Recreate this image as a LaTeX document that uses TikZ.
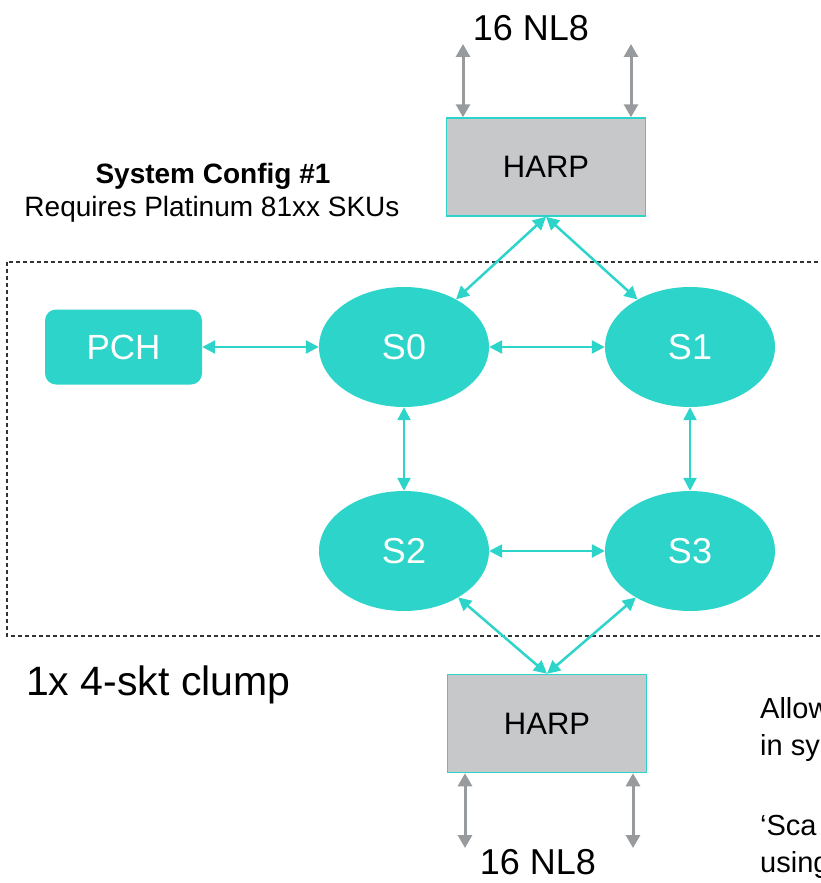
\documentclass[tikz,border=0pt]{standalone}
\usepackage{fontspec}
\setmainfont{Liberation Sans}
\usetikzlibrary{shapes.geometric, arrows.meta, positioning}

\definecolor{sktcol}{HTML}{2DD4CA}
\definecolor{harpfill}{HTML}{C6C8C9}
\definecolor{nlgray}{HTML}{979B9D}

\begin{document}
\begin{tikzpicture}[x=1pt, y=-1pt]

\def\xl{404} % x of the left sockets
\def\xr{690} % x of the right sockets
\def\yt{347} % y of the upper sockets
\def\yb{551} % y of the lower sockets

\tikzset{socket/.style = {ellipse, fill=sktcol, inner sep=0pt,
                          minimum width=170pt, minimum height=120pt,
                          text=white, font=\fontsize{36}{40}\selectfont}
        }

\tikzset{harpbox/.style = {rectangle, draw=sktcol, line width=1.5pt, fill=harpfill,
                           minimum width=199pt, minimum height=98pt,
                           font=\fontsize{31}{36}\selectfont}
        }

\tikzset{link/.style = {line width=2.5pt, sktcol,
                        {Triangle[length=13pt, width=13pt]}-{Triangle[length=13pt, width=13pt]}}
        }

\tikzset{nlink/.style = {line width=3pt, nlgray,
                         {Triangle[length=13pt, width=14pt]}-{Triangle[length=13pt, width=14pt]}}
        }

\tikzset{note/.style = {font=\fontsize{29}{33}\selectfont, anchor=base west, inner sep=0pt}}

\clip (0,0) rectangle (820,883);

% clump frame
\draw[line width=1.3pt, black!80, dash pattern=on 4pt off 3pt] (7,262) rectangle (840,636);

% sockets
\node[socket] (s0) at (\xl,\yt) {S0};
\node[socket] (s1) at (\xr,\yt) {S1};
\node[socket] (s2) at (\xl,\yb) {S2};
\node[socket] (s3) at (\xr,\yb) {S3};

% PCH
\node[rectangle, rounded corners=11pt, fill=sktcol, minimum width=157pt, minimum height=75pt,
      text=white, font=\fontsize{35}{40}\selectfont] (pch) at (123.5,\yt) {PCH};

% HARP boxes
\node[harpbox] (harpT) at (546,167) {HARP};
\node[harpbox] (harpB) at (547,723.5) {HARP};

% socket links
\draw[link] (pch) -- (s0);
\draw[link] (s0) -- (s1);
\draw[link] (s2) -- (s3);
\draw[link] (s0) -- (s2);
\draw[link] (s1) -- (s3);
\draw[link] (harpT.south) -- (s0);
\draw[link] (harpT.south) -- (s1);
\draw[link] (harpB.north) -- (s2);
\draw[link] (harpB.north) -- (s3);

% NL8 links
\coordinate (nlTa) at (463,44);
\coordinate (nlTb) at (631,44);
\coordinate (nlBa) at (465,848);
\coordinate (nlBb) at (633,848);
\draw[nlink] (nlTa) -- (nlTa |- harpT.north);
\draw[nlink] (nlTb) -- (nlTb |- harpT.north);
\draw[nlink] (harpB.south -| nlBa) -- (nlBa);
\draw[nlink] (harpB.south -| nlBb) -- (nlBb);

% legend
\node[font=\fontsize{36}{40}\selectfont] (nlT) at (531,28) {16 NL8};
\node[font=\fontsize{36}{40}\selectfont] (nlB) at (538,862) {16 NL8};
\node[font=\bfseries\fontsize{28}{32}\selectfont] (cfg) at (213,176) {System Config \#1};
\node[font=\fontsize{28}{32}\selectfont] (sku) at (212,209) {Requires Platinum 81xx SKUs};
\node[font=\fontsize{41}{46}\selectfont, anchor=west, inner sep=0pt] (clump) at (26,685) {1x 4-skt clump};

% side note, cut by the frame
\node[note] (nt1) at (760,718) {Allow};
\node[note] (nt2) at (760,755) {in sy};
\node[note] (nt3) at (760,835) {‘Sca};
\node[note] (nt4) at (760,872) {using};

\end{tikzpicture}
\end{document}
